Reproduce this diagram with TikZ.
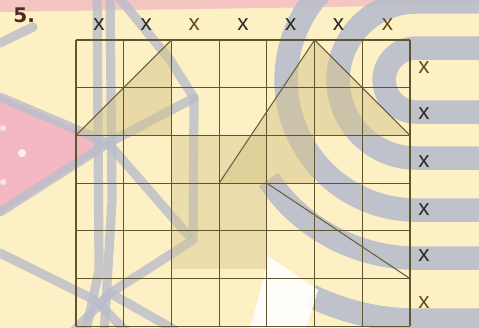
\documentclass[tikz,border=0pt]{standalone}
\usepackage{fontspec}
\setmainfont{Liberation Sans}
\newfontfamily\numfont{DejaVu Sans}
\usetikzlibrary{positioning}
\definecolor{paperyellow}{RGB}{253,240,196}
\definecolor{blushpink}{RGB}{243,184,193}
\definecolor{shadowgray}{RGB}{186,189,204}
\definecolor{sandtan}{RGB}{212,196,138}
\definecolor{gridolive}{RGB}{96,86,46}
\definecolor{labelink}{RGB}{44,41,34}
\definecolor{labelolive}{RGB}{94,78,24}
\definecolor{numberbrown}{RGB}{80,40,38}

\begin{document}
\begin{tikzpicture}[
    x=1cm, y=-1cm,
    cellgrid/.style={draw=gridolive, line width=0.7pt},
    slantline/.style={draw=gridolive!85!gray, line width=0.6pt},
    tanshade/.style={fill=sandtan, fill opacity=0.5},
    smudge/.style={draw=shadowgray, draw opacity=0.8, line width=5.5pt,
                   line cap=round, line join=round},
    bandarc/.style={draw=shadowgray, draw opacity=0.9, line width=14pt},
    marknode/.style={inner sep=0pt, font=\fontsize{13.4}{14}\selectfont, text=labelink},
    numnode/.style={inner sep=0pt, anchor=base west,
                    font=\numfont\bfseries\fontsize{12}{12}\selectfont, text=numberbrown}
]
\useasboundingbox (-1.5928,-0.8383) rectangle (8.4462,6.0360);

\begin{scope}[shift={(-1.5928,-0.8383)}, x=0.020958cm, y=-0.020958cm]
  \fill[paperyellow] (0,0) rectangle (479,328);
  \clip (0,0) rectangle (479,328);
  \fill[blushpink, opacity=0.75] (0,0) -- (479,0) -- (479,4) -- (330,7) -- (0,12) -- cycle;
  \fill[blushpink] (0,95) -- (110,144) -- (0,215) -- cycle;
  \fill[white, opacity=0.8] (22,153) circle[radius=4];
  \fill[white, opacity=0.6] (3,128) circle[radius=3];
  \fill[white, opacity=0.6] (3,182) circle[radius=3];
  \draw[smudge] (0,97) -- (108,143) -- (0,212);
  \draw[smudge] (97,-5) -- (99,270) -- (85,335);
  \draw[smudge] (110,-5) -- (112,200) -- (104,335);
  \draw[smudge] (117,-5) -- (170,60) -- (194,98) -- (193,240) -- (110,293) -- (70,335);
  \draw[smudge] (194,98) -- (108,143) -- (188,235);
  \draw[smudge] (0,253) -- (95,300) -- (130,335);
  \draw[smudge] (110,293) -- (175,330);
  \draw[smudge] (0,43) -- (33,27);
  \draw[bandarc] (500,48) -- (416,48) arc[start angle=270, end angle=90, radius=32] -- (500,112);
  \draw[bandarc] (500,2) -- (416,2) arc[start angle=270, end angle=90, radius=78] -- (500,158);
  \draw[bandarc] (416,-50) arc[start angle=270, end angle=90, radius=130] -- (500,210);
  \draw[bandarc] (500,258) -- (416,258) arc[start angle=90, end angle=146, radius=178];
  \draw[bandarc] (500,320) -- (416,320) arc[start angle=90, end angle=116, radius=240];
  \fill[white, opacity=0.9] (268,256) -- (318,290) -- (306,328) -- (250,328) -- (260,292) -- cycle;
\end{scope}

\coordinate (a1) at (0,2);
\coordinate (a2) at (2,0);
\coordinate (a3) at (2,2);
\coordinate (b1) at (3,3);
\coordinate (b2) at (5,0);
\coordinate (b3) at (7,2);
\coordinate (b4) at (5,2);
\coordinate (b5) at (5,3);
\coordinate (d1) at (4,3);
\coordinate (d2) at (7,5);

\fill[tanshade] (a1) -- (a2) -- (a3) -- cycle;
\fill[tanshade] (b1) -- (b2) -- (b3) -- (b4) -- (b5) -- cycle;
\fill[tanshade, fill opacity=0.4] (2,2) rectangle (4,4.8);

\draw[cellgrid] (0,0) grid (7,6);

\draw[slantline] (a1) -- (a2);
\draw[slantline] (b1) -- (b2) -- (b3);
\draw[slantline] (d1) -- (d2);

\node[numnode] (num) at (-1.320,-0.377) {5.};

\node[marknode] (c1) at (0.48,-0.331) {x};
\node[marknode] (c2) at (1.47,-0.331) {x};
\node[marknode, text=labelolive] (c3) at (2.48,-0.331) {x};
\node[marknode] (c4) at (3.50,-0.331) {x};
\node[marknode] (c5) at (4.50,-0.331) {x};
\node[marknode] (c6) at (5.50,-0.331) {x};
\node[marknode, text=labelolive] (c7) at (6.53,-0.331) {x};

\node[marknode, text=labelolive] (r1) at (7.293,0.570) {x};
\node[marknode] (r2) at (7.293,1.547) {x};
\node[marknode] (r3) at (7.293,2.543) {x};
\node[marknode] (r4) at (7.293,3.546) {x};
\node[marknode] (r5) at (7.293,4.523) {x};
\node[marknode, text=labelolive] (r6) at (7.293,5.512) {x};

\end{tikzpicture}
\end{document}
